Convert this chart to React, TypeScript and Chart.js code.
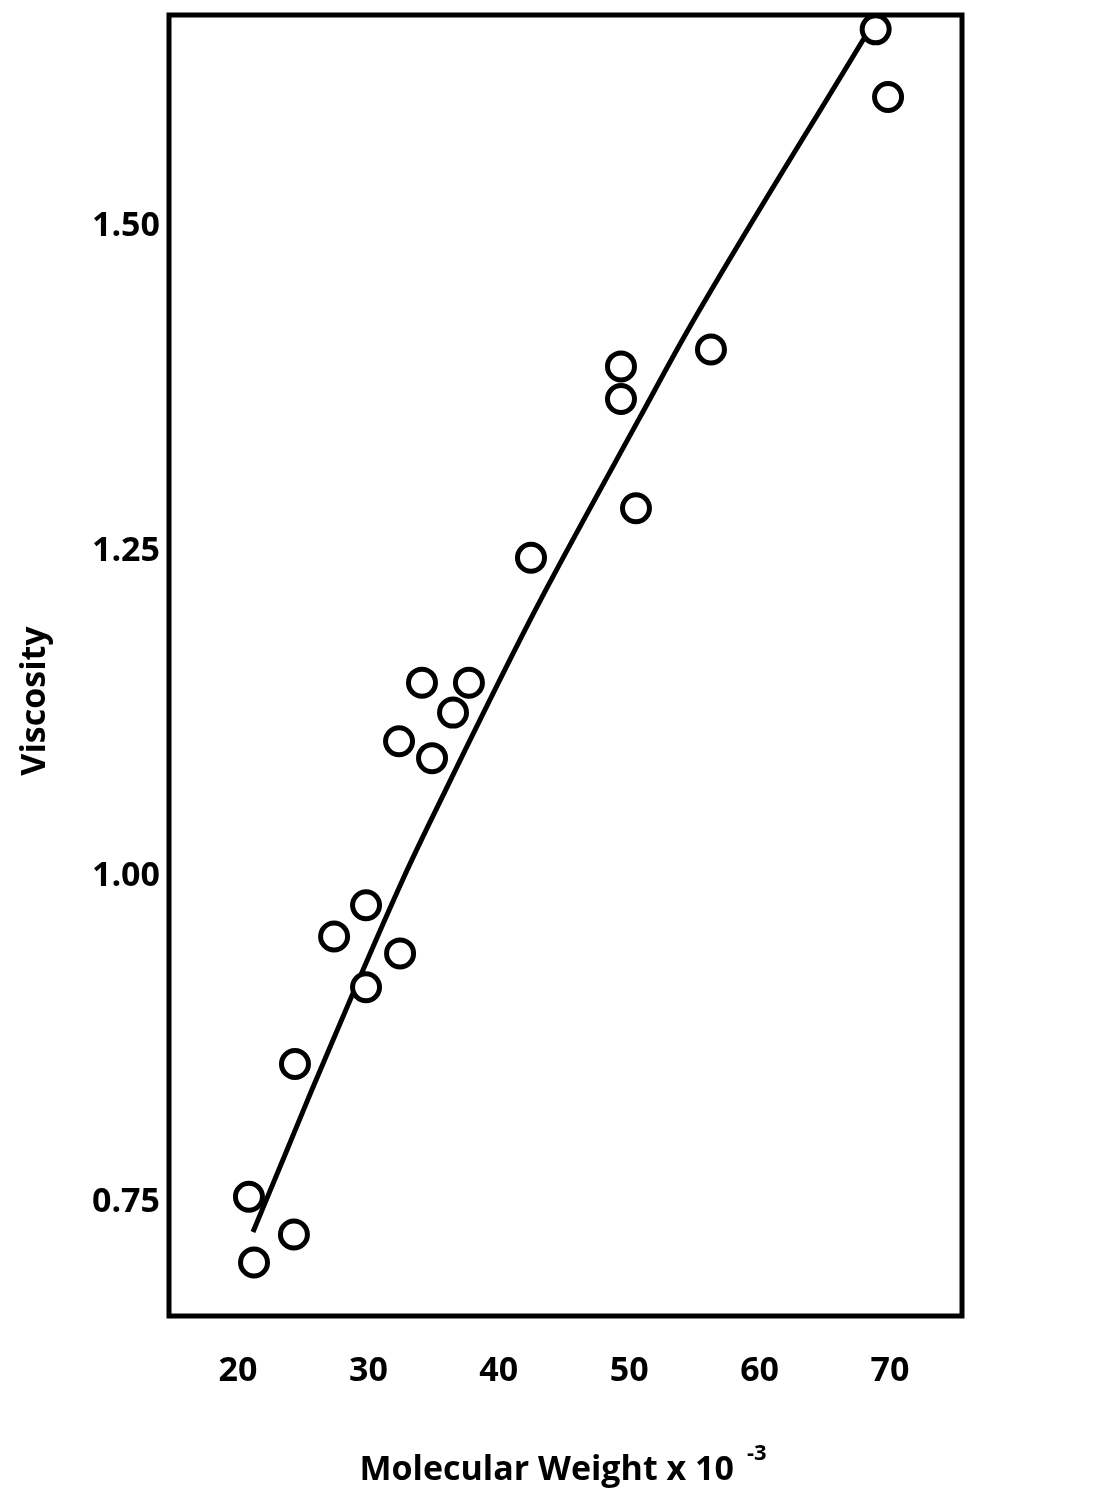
import React, { useEffect, useRef } from "react";
import { Chart, registerables } from "chart.js";

Chart.register(...registerables);

// ---- data ----
const xTicks = [20, 30, 40, 50, 60, 70];
const yTicks = [0.75, 1.0, 1.25, 1.5];

const molWeight = [
  68.9, 69.85, 56.27, 49.37, 49.37, 50.52, 42.47, 34.11, 37.71, 36.49,
  32.35, 34.88, 29.82, 27.37, 32.43, 29.82, 24.37, 20.84, 24.29, 21.23,
];
const viscosity = [
  1.651, 1.599, 1.405, 1.392, 1.367, 1.283, 1.245, 1.149, 1.149, 1.126,
  1.104, 1.091, 0.978, 0.954, 0.941, 0.915, 0.856, 0.754, 0.725, 0.7035,
];

const fitX = [21.15, 23.76, 25.37, 32.65, 35.95, 41.63, 43.7, 50.83, 54.51, 68.0];
const fitY = [0.727, 0.79, 0.829, 0.998, 1.067, 1.182, 1.222, 1.353, 1.42, 1.644];

const xTitle = "Molecular Weight x 10";
const xTitleExp = "-3";
const yTitle = "Viscosity";

const FONT = "'Open Sans', sans-serif";

const framePlugin = {
  id: "frameAndTitles",
  beforeDatasetsDraw(chart: any) {
    const { ctx, chartArea: a } = chart;
    ctx.save();
    ctx.strokeStyle = "#000";
    ctx.lineWidth = 5;
    ctx.strokeRect(a.left, a.top, a.right - a.left, a.bottom - a.top);
    ctx.restore();
  },
  afterDraw(chart: any) {
    const { ctx, chartArea: a } = chart;
    ctx.save();
    ctx.fillStyle = "#000";
    ctx.textAlign = "left";
    ctx.textBaseline = "alphabetic";
    const mainFont = `bold 34px ${FONT}`;
    const expFont = `bold 22px ${FONT}`;
    ctx.font = mainFont;
    const mainW = ctx.measureText(xTitle).width;
    ctx.font = expFont;
    const expW = ctx.measureText(xTitleExp).width;
    const gap = 13;
    const total = mainW + gap + expW;
    const cx = (a.left + a.right) / 2 - 2.5;
    const x0 = cx - total / 2;
    const base = a.bottom + 164;
    ctx.font = mainFont;
    ctx.fillText(xTitle, x0, base);
    ctx.font = expFont;
    ctx.fillText(xTitleExp, x0 + mainW + gap, base - 20);

    ctx.translate(35, 701);
    ctx.rotate(-Math.PI / 2);
    ctx.textAlign = "center";
    ctx.textBaseline = "middle";
    ctx.font = `bold 34px ${FONT}`;
    ctx.fillText(yTitle, 0, 0);
    ctx.restore();
  },
};

export default function App() {
  const ref = useRef<HTMLCanvasElement>(null);

  useEffect(() => {
    const chart = new Chart(ref.current!, {
      type: "scatter",
      data: {
        datasets: [
          {
            type: "scatter",
            data: molWeight.map((x, i) => ({ x, y: viscosity[i] })),
            pointRadius: 13.5,
            pointHoverRadius: 13.5,
            pointBorderWidth: 5,
            borderColor: "#000",
            backgroundColor: "#fff",
            clip: false as any,
            order: 0,
          },
          {
            type: "line",
            data: fitX.map((x, i) => ({ x, y: fitY[i] })),
            borderColor: "#000",
            borderWidth: 5,
            pointRadius: 0,
            cubicInterpolationMode: "monotone",
            fill: false,
            clip: false as any,
            order: 1,
          } as any,
        ],
      },
      options: {
        animation: false,
        responsive: true,
        maintainAspectRatio: false,
        events: [],
        layout: {
          autoPadding: false,
          padding: { top: 15, right: 158, left: 0, bottom: 0 },
        },
        plugins: { legend: { display: false }, tooltip: { enabled: false } },
        scales: {
          x: {
            type: "linear",
            min: 14.71,
            max: 75.52,
            grid: { display: false, drawTicks: false },
            border: { display: false },
            ticks: {
              color: "#000",
              font: { family: FONT, size: 34, weight: "bold" },
              padding: 35,
              autoSkip: false,
              maxRotation: 0,
              callback: (v: any) => String(v),
            },
            afterBuildTicks: (s: any) => {
              s.ticks = xTicks.map((v) => ({ value: v }));
            },
            afterFit: (s: any) => {
              s.height = 192;
              s.paddingLeft = 0;
              s.paddingRight = 0;
            },
          },
          y: {
            type: "linear",
            min: 0.6624,
            max: 1.662,
            grid: { display: false, drawTicks: false },
            border: { display: false },
            ticks: {
              color: "#000",
              font: { family: FONT, size: 34, weight: "bold" },
              padding: 9,
              autoSkip: false,
              callback: (v: any) => Number(v).toFixed(2),
            },
            afterBuildTicks: (s: any) => {
              s.ticks = yTicks.map((v) => ({ value: v }));
            },
            afterFit: (s: any) => {
              s.width = 169;
              s.paddingTop = 0;
              s.paddingBottom = 0;
            },
          },
        },
      },
      plugins: [framePlugin],
    });
    return () => chart.destroy();
  }, []);

  return (
    <div
      style={{
        position: "absolute",
        left: 0,
        top: 0,
        width: 1120,
        height: 1508,
        background: "#fff",
      }}
    >
      <canvas ref={ref} />
    </div>
  );
}
